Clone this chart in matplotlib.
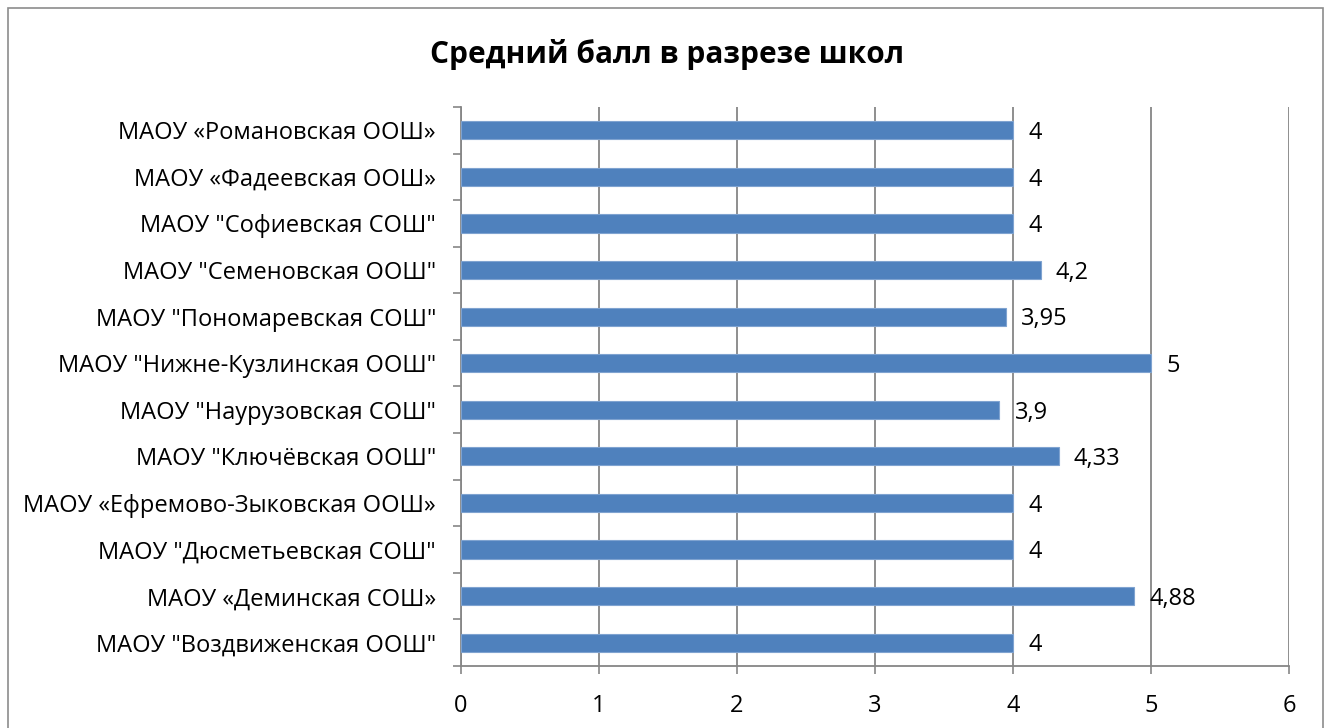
import matplotlib
matplotlib.use("Agg")
import matplotlib.pyplot as plt
import numpy as np
from matplotlib.patches import Rectangle

plt.rcParams["font.family"] = ["Open Sans", "DejaVu Sans"]

schools = [
    'МАОУ "Воздвиженская ООШ"',
    'МАОУ «Деминская СОШ»',
    'МАОУ "Дюсметьевская СОШ"',
    'МАОУ «Ефремово-Зыковская ООШ»',
    'МАОУ "Ключёвская ООШ"',
    'МАОУ "Наурузовская СОШ"',
    'МАОУ "Нижне-Кузлинская ООШ"',
    'МАОУ "Пономаревская СОШ"',
    'МАОУ "Семеновская ООШ"',
    'МАОУ "Софиевская СОШ"',
    'МАОУ «Фадеевская ООШ»',
    'МАОУ «Романовская ООШ»',
]
scores = [4, 4.88, 4, 4, 4.33, 3.9, 5, 3.95, 4.2, 4, 4, 4]
x_ticks = [0, 1, 2, 3, 4, 5, 6]

BAR_COLOR = "#4F81BD"
GRID_COLOR = "#868686"
FS = 17

fig = plt.figure(figsize=(13.3, 7.28), dpi=100)
ax = fig.add_axes([461 / 1330, 1 - 666 / 728, 828 / 1330, 559 / 728])

y = np.arange(len(schools))
ax.barh(y, scores, height=0.39, color=BAR_COLOR, edgecolor="#7FA3D0",
        linewidth=0.8, zorder=3)

for yi, v in zip(y, scores):
    txt = f"{v:g}".replace(".", ",")
    ax.annotate(txt, (v, yi), xytext=(11, -2), textcoords="offset points",
                va="center", ha="left", fontsize=FS, color="black")

ax.set_xlim(0, 6)
ax.set_ylim(-0.5, len(schools) - 0.5)
ax.set_xticks(x_ticks)
ax.set_xticklabels([str(t) for t in x_ticks], fontsize=FS)
ax.set_yticks(y)
ax.set_yticklabels(schools, fontsize=FS)
ax.set_yticks(np.arange(-0.5, len(schools)), minor=True)
ax.tick_params(axis="y", which="major", length=0, pad=18)
ax.tick_params(axis="y", which="minor", length=6, width=1.2, color=GRID_COLOR,
               direction="out")
ax.tick_params(axis="x", length=6, width=1.2, color=GRID_COLOR, pad=14)

ax.grid(axis="x", color=GRID_COLOR, linewidth=1.3, zorder=0)
ax.set_axisbelow(True)
for s in ("top", "right"):
    ax.spines[s].set_visible(False)
for s in ("left", "bottom"):
    ax.spines[s].set_color(GRID_COLOR)
    ax.spines[s].set_linewidth(1.3)

fig.text(667 / 1330, 1 - 55 / 728, "Средний балл в разрезе школ",
         ha="center", va="center", fontsize=21.5, fontweight="bold")

fig.patches.append(Rectangle((8 / 1330, -0.01), 1315 / 1330, 1 - 8 / 728 + 0.01,
                             transform=fig.transFigure, fill=False,
                             edgecolor="#8C8C8C", linewidth=1.2))

fig.savefig("out.png", dpi=100)
